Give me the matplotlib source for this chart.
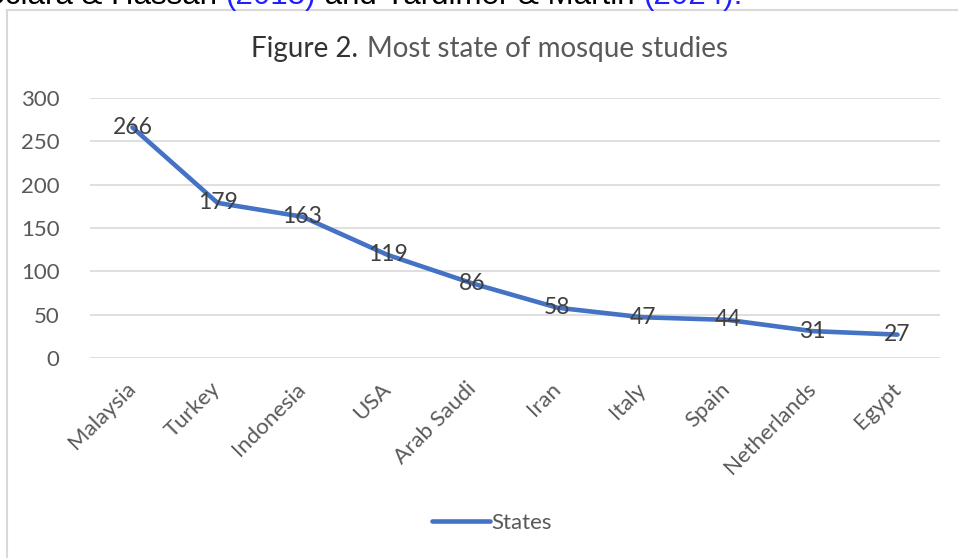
import matplotlib
matplotlib.use("Agg")
import matplotlib.pyplot as plt
from matplotlib.patches import Rectangle

# data
states = ["Malaysia", "Turkey", "Indonesia", "USA", "Arab Saudi",
          "Iran", "Italy", "Spain", "Netherlands", "Egypt"]
counts = [266, 179, 163, 119, 86, 58, 47, 44, 31, 27]
yticks = [0, 50, 100, 150, 200, 250, 300]

W, H = 958, 558
fig = plt.figure(figsize=(W / 100, H / 100), dpi=100)
fig.patch.set_facecolor("white")

def px(x, y):
    # pixel coords (from top-left) -> figure fraction
    return x / W, 1 - y / H

# chart border (light gray box, runs off the right/bottom edges)
bx, by = px(7, 10)
fig.patches.append(Rectangle((bx, -0.05), 1.2, by + 0.05, transform=fig.transFigure,
                             fill=False, edgecolor="#D9D9D9", linewidth=1.5))

# clipped line of body text above the chart
renderer = fig.canvas.get_renderer()
x0, ytop = px(-16, 4)
parts = [("Sciara & Hassan ", "black"), ("(2018)", "#1F1FFF"),
         (" and Yardimer & Martin ", "black"), ("(2024).", "#1F1FFF")]
xcur = x0
for s, c in parts:
    t = fig.text(xcur, ytop, s, fontsize=22.5, family="Liberation Sans", color=c,
                 ha="left", va="baseline")
    bb = t.get_window_extent(renderer)
    xcur += bb.width / W

# title in two weights
tx, ty = px(358, 49)
fig.text(tx, ty, "Figure 2.", fontsize=20, family="Lato", color="#333333",
         ha="right", va="center")
tx2, _ = px(367, 49)
fig.text(tx2, ty, "Most state of mosque studies", fontsize=20, family="Lato",
         color="#595959", ha="left", va="center")

l, t_ = px(90, 98)
r, b = px(940, 358)
ax = fig.add_axes([l, b, r - l, t_ - b])

x = list(range(len(states)))
line, = ax.plot(x, counts, color="#4472C4", linewidth=3.3,
                solid_joinstyle="round", solid_capstyle="round", label="States",
                zorder=3)

for xi, v in zip(x, counts):
    ax.text(xi, v, str(v), ha="center", va="center", fontsize=16.5,
            family="Lato", color="#404040", zorder=4)

ax.set_xlim(-0.5, len(states) - 0.5)
ax.set_ylim(0, 300)
ax.set_yticks(yticks)
ax.set_yticklabels([str(v) for v in yticks], fontsize=16, family="Lato",
                   color="#595959")
ax.set_xticks(x)
ax.set_xticklabels(states, rotation=45, ha="right", va="center",
                   rotation_mode="anchor", fontsize=16, family="Lato",
                   color="#595959")
ax.tick_params(axis="both", length=0)
ax.tick_params(axis="y", pad=22)
ax.tick_params(axis="x", pad=20)
ax.grid(axis="y", color="#D9D9D9", linewidth=1.2)
ax.set_axisbelow(True)
for sp in ax.spines.values():
    sp.set_visible(False)

lx, ly = px(492, 523)
leg = fig.legend(handles=[line], loc="center", bbox_to_anchor=(lx, ly),
                 frameon=False, handlelength=2.6, handletextpad=0.1,
                 prop={"family": "Lato", "size": 16})
for txt in leg.get_texts():
    txt.set_color("#595959")

fig.savefig("out.png", dpi=100)
